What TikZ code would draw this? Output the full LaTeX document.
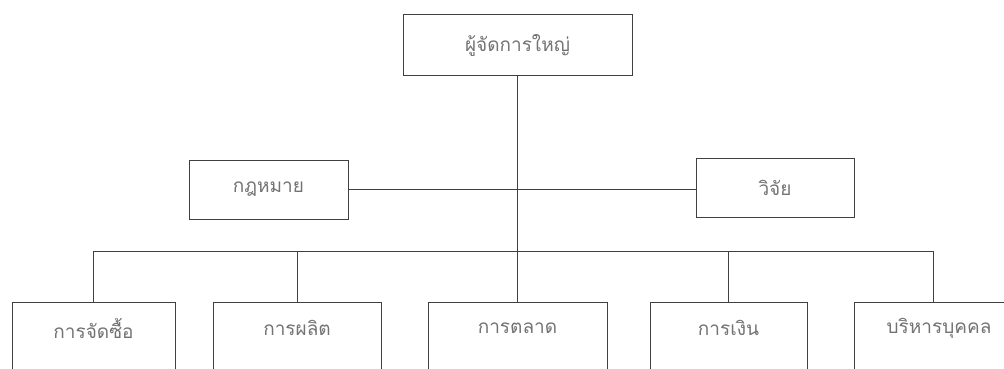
\documentclass[tikz,border=0pt]{standalone}
\usepackage{fontspec}
\newfontfamily\thaifont[Script=Thai]{Loma}
\begin{document}
\begin{tikzpicture}[x=1pt,y=-1pt,
  box/.style={draw=black!75,line width=1pt,fill=white,inner sep=0pt},
  lbl/.style={font=\thaifont\fontsize{19}{22}\selectfont,text=black!55},
  link/.style={draw=black!75,line width=0.9pt}]
  \clip (0,0) rectangle (1004,369);
  \fill[white] (0,0) rectangle (1004,369);
  % top level
  \node[box,minimum width=229pt,minimum height=61pt] (gm) at (517.5,45.5) {};
  \node[lbl] (gmt) at (gm.center) {ผู้จัดการใหญ่};
  % staff units
  \node[box,minimum width=159pt,minimum height=59pt] (law) at (268.5,189.5) {};
  \node[lbl] (lawt) at (law.center) {กฎหมาย};
  \node[box,minimum width=158pt,minimum height=59pt] (res) at (775,187.5) {};
  \node[lbl] (rest) at (res.center) {วิจัย};
  % departments (boxes run past the lower edge)
  \node[box,anchor=north,minimum width=163pt,minimum height=120pt] (d1) at (93.5,302) {};
  \node[box,anchor=north,minimum width=168pt,minimum height=120pt] (d2) at (297,302) {};
  \node[box,anchor=north,minimum width=179pt,minimum height=120pt] (d3) at (517.5,302) {};
  \node[box,anchor=north,minimum width=157pt,minimum height=120pt] (d4) at (728.5,302) {};
  \node[box,anchor=north,minimum width=170pt,minimum height=120pt] (d5) at (939,302) {};
  \node[lbl] (d1t) at ([yshift=-26pt]d1.north) {การจัดซื้อ};
  \node[lbl] (d2t) at ([yshift=-26pt]d2.north) {การผลิต};
  \node[lbl] (d3t) at ([yshift=-26pt]d3.north) {การตลาด};
  \node[lbl] (d4t) at ([yshift=-26pt]d4.north) {การเงิน};
  \node[lbl] (d5t) at ([yshift=-26pt]d5.north) {บริหารบุคคล};
  % connectors
  \coordinate (bus) at (517.5,251);
  \path[link] (gm.south) -- (bus);
  \path[link] (law.east) -- (law.east -| res.west);
  \path[link] (d1.north) -- (d1.north |- bus) -- ([xshift=-6pt]d5.north |- bus) -- ([xshift=-6pt]d5.north);
  \path[link] (d2.north) -- (d2.north |- bus);
  \path[link] (d3.north) -- (d3.north |- bus);
  \path[link] (d4.north) -- (d4.north |- bus);
\end{tikzpicture}
\end{document}
